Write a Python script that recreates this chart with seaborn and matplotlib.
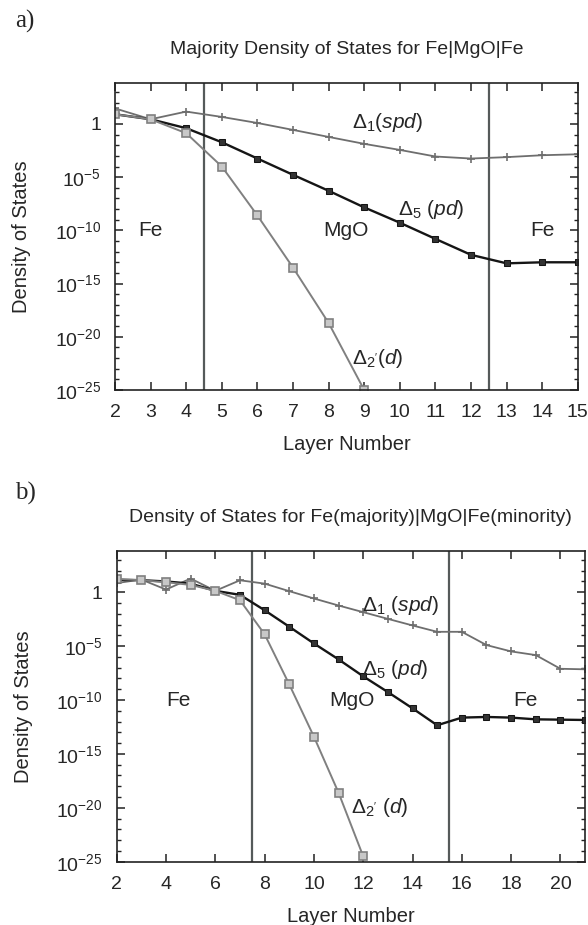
import numpy as np
import pandas as pd
import matplotlib
matplotlib.use("Agg")
import matplotlib.pyplot as plt
import matplotlib.ticker as mticker
import seaborn as sns

# ---- data (log10 of density of states) ----
layers_a = list(range(2, 16))
d1_a = [1.46, 0.44, 1.16, 0.66, 0.09, -0.56, -1.22, -1.87, -2.44, -3.06, -3.25, -3.12, -2.94, -2.85]
d5_a = [0.91, 0.44, -0.40, -1.72, -3.25, -4.78, -6.28, -7.84, -9.28, -10.8, -12.3, -13.1, -13.0, -13.0]
layers_a_d2 = list(range(2, 10))
d2_a = [0.91, 0.44, -0.87, -4.0, -8.6, -13.5, -18.7, -25.0]

layers_b = list(range(2, 22))
d1_b = [0.85, 1.18, 0.25, 1.27, 0.13, 1.11, 0.80, 0.10, -0.58, -1.23, -1.85, -2.47, -3.08, -3.67,
        -3.67, -4.90, -5.49, -5.83, -7.10, -7.15]
d5_b = [1.15, 1.12, 1.00, 0.80, 0.13, -0.24, -1.67, -3.20, -4.75, -6.23, -7.80, -9.26, -10.77,
        -12.34, -11.63, -11.57, -11.63, -11.79, -11.82, -11.85]
layers_b_d2 = list(range(2, 13))
d2_b = [1.24, 1.11, 0.93, 0.68, 0.13, -0.74, -3.9, -8.55, -13.4, -18.6, -24.5]

interfaces_a = [4.5, 12.5]
interfaces_b = [7.5, 15.5]

sns.set_theme(style="ticks")
plt.rcParams["font.family"] = ["Liberation Sans", "DejaVu Sans"]
plt.rcParams["mathtext.fontset"] = "custom"
plt.rcParams["mathtext.rm"] = "Liberation Sans"
plt.rcParams["mathtext.it"] = "Liberation Sans:italic"
plt.rcParams["mathtext.bf"] = "Liberation Sans:bold"

c_d1 = "#6e6e6e"
c_d5 = "#151515"
c_d2 = "#808080"
c_vline = "#555a5a"


def log_fmt(v, pos):
    e = int(round(np.log10(v)))
    if e == 0:
        return "1"
    return r"10$^{%d}$" % e


def draw_panel(ax, x1, y1, x5, y5, x2, y2, vlines, xlim, xticks):
    df1 = pd.DataFrame({"layer": x1, "dos": 10.0 ** np.array(y1)})
    df5 = pd.DataFrame({"layer": x5, "dos": 10.0 ** np.array(y5)})
    df2 = pd.DataFrame({"layer": x2, "dos": 10.0 ** np.array(y2)})
    sns.lineplot(data=df1, x="layer", y="dos", ax=ax, color=c_d1, lw=1.3,
                 marker="+", markersize=6, markeredgewidth=1.2, markeredgecolor=c_d1)
    sns.lineplot(data=df5, x="layer", y="dos", ax=ax, color=c_d5, lw=1.7,
                 marker="s", markersize=4.5, markeredgecolor=c_d5, markerfacecolor="#333333")
    sns.lineplot(data=df2, x="layer", y="dos", ax=ax, color=c_d2, lw=1.4,
                 marker="s", markersize=6, markeredgewidth=1.2,
                 markeredgecolor=c_d2, markerfacecolor="#c8c8c8")
    for v in vlines:
        ax.axvline(v, color=c_vline, lw=1.6, zorder=1)
    ax.set_yscale("log")
    ax.set_ylim(1e-25, 10 ** 3.85)
    ax.set_xlim(*xlim)
    ax.set_xticks(xticks)
    ax.yaxis.set_major_locator(mticker.FixedLocator([10.0 ** k for k in range(-25, 1, 5)]))
    ax.yaxis.set_minor_locator(mticker.FixedLocator([10.0 ** k for k in range(-25, 4) if k % 5 != 0]))
    ax.yaxis.set_major_formatter(mticker.FuncFormatter(log_fmt))
    ax.yaxis.set_minor_formatter(mticker.NullFormatter())
    ax.tick_params(axis="both", which="major", direction="in", length=6, width=1.1,
                   top=True, right=True, labelsize=14, pad=10, color="#222222")
    ax.tick_params(axis="y", which="minor", direction="in", length=3, width=1.0,
                   left=True, right=True, color="#222222")
    for s in ax.spines.values():
        s.set_linewidth(1.2)
        s.set_color("#222222")
    ax.set_xlabel("Layer Number", fontsize=14.5, labelpad=10)
    ax.set_ylabel("Density of States", fontsize=14.5, labelpad=17)


fig = plt.figure(figsize=(5.88, 9.25), dpi=100)
ax_a = fig.add_axes([0.1956, 0.5784, 0.787, 0.3319])
ax_b = fig.add_axes([0.1985, 0.0684, 0.7965, 0.3362])

draw_panel(ax_a, layers_a, d1_a, layers_a, d5_a, layers_a_d2, d2_a,
           interfaces_a, (2, 15), list(range(2, 16)))
draw_panel(ax_b, layers_b, d1_b, layers_b, d5_b, layers_b_d2, d2_b,
           interfaces_b, (2, 21), list(range(2, 21, 2)))

ax_a.set_title("Majority Density of States for Fe|MgO|Fe", fontsize=14, pad=21)
ax_b.set_title("Density of States for Fe(majority)|MgO|Fe(minority)", fontsize=14, pad=21)

# region and band labels
lbl = 15
ax_a.text(3.0, 1e-10, "Fe", fontsize=lbl, ha="center", va="center")
ax_a.text(8.5, 1e-10, "MgO", fontsize=lbl, ha="center", va="center")
ax_a.text(14.0, 1e-10, "Fe", fontsize=lbl, ha="center", va="center")
ax_a.text(8.65, 10 ** 0.1, r"$\Delta_1(\mathit{spd})$", fontsize=lbl, ha="left", va="center")
ax_a.text(9.95, 10 ** -8.0, r"$\Delta_5$ $(\mathit{pd})$", fontsize=lbl, ha="left", va="center")
ax_a.text(8.65, 10 ** -22.0, r"$\Delta_{2'}(\mathit{d})$", fontsize=lbl, ha="left", va="center")

ax_b.text(4.5, 1e-10, "Fe", fontsize=lbl, ha="center", va="center")
ax_b.text(11.55, 1e-10, "MgO", fontsize=lbl, ha="center", va="center")
ax_b.text(18.6, 1e-10, "Fe", fontsize=lbl, ha="center", va="center")
ax_b.text(11.95, 10 ** -1.2, r"$\Delta_1$ $(\mathit{spd})$", fontsize=lbl, ha="left", va="center")
ax_b.text(11.95, 10 ** -7.2, r"$\Delta_5$ $(\mathit{pd})$", fontsize=lbl, ha="left", va="center")
ax_b.text(11.5, 10 ** -20.0, r"$\Delta_{2'}$ $(\mathit{d})$", fontsize=lbl, ha="left", va="center")

fig.text(0.026, 0.977, "a)", fontsize=18, family=["Liberation Serif", "DejaVu Serif"], va="center")
fig.text(0.026, 0.467, "b)", fontsize=18, family=["Liberation Serif", "DejaVu Serif"], va="center")

fig.savefig("out.png", dpi=100)
